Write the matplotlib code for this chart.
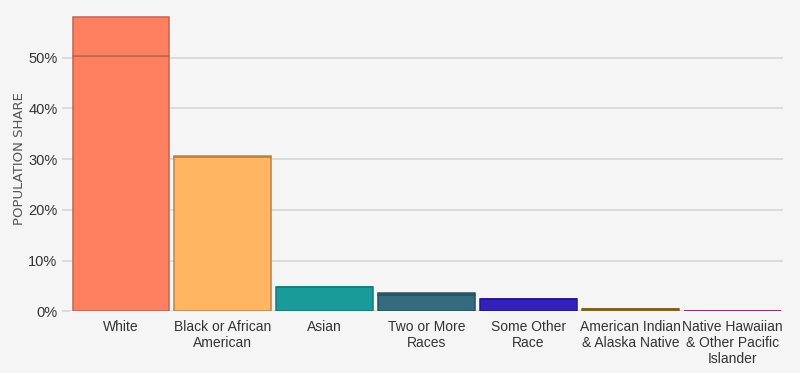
import matplotlib.pyplot as plt
import numpy as np

categorias = ['White', 'Black or African\nAmerican', 'Asian', 'Two or More\nRaces',
              'Some Other\nRace', 'American Indian\n& Alaska Native',
              'Native Hawaiian\n& Other Pacific\nIslander']
# parte de baixo e parte de cima de cada barra (em %)
base = [50.35, 30.35, 4.8, 3.2, 2.4, 0.45, 0.1]
topo = [7.65, 0.25, 0.0, 0.5, 0.0, 0.0, 0.0]
cores = ['#ff7f61', '#ffb562', '#1a9b9b', '#346b80', '#3321bd', '#9c7a2a', '#b03a9a']
bordas = ['#c0654f', '#b8844a', '#157a7a', '#27505f', '#24188a', '#7a5e1f', '#862b75']
ticks_y = [0, 10, 20, 30, 40, 50]

fundo = '#f5f5f5'
fig = plt.figure(figsize=(8, 3.73), dpi=100, facecolor=fundo)
ax = fig.add_axes([0.0875, 0.1649, 0.8915, 0.8035], facecolor=fundo)

x = np.arange(len(categorias))
ax.bar(x, base, width=0.95, color=cores, edgecolor=bordas, linewidth=1.1, zorder=3)
ax.bar(x, topo, bottom=base, width=0.95, color=cores, edgecolor=bordas, linewidth=1.1, zorder=3)

ax.set_xlim(-0.5, 6.5)
ax.set_ylim(0, 59)
ax.set_yticks(ticks_y)
ax.set_yticklabels([f'{v}%' for v in ticks_y], fontsize=10.5, color='#333333',
                   family='Liberation Sans')
ax.set_xticks(x)
ax.set_xticklabels(categorias, fontsize=10, color='#333333', family='Liberation Sans',
                   linespacing=1.2)
ax.tick_params(axis='y', length=6, width=1.2, color='#d6d6d6', pad=3)
ax.tick_params(axis='x', length=0, pad=6)
ax.grid(axis='y', color='#d6d6d6', linewidth=1.2, zorder=0)
for lado in ax.spines.values():
    lado.set_visible(False)

fig.text(0.024, 0.575, 'POPULATION SHARE', rotation=90, ha='center', va='center',
         fontsize=9.5, color='#555555', family='DejaVu Sans')

plt.savefig('out.png', dpi=100, facecolor=fundo)
plt.close()
